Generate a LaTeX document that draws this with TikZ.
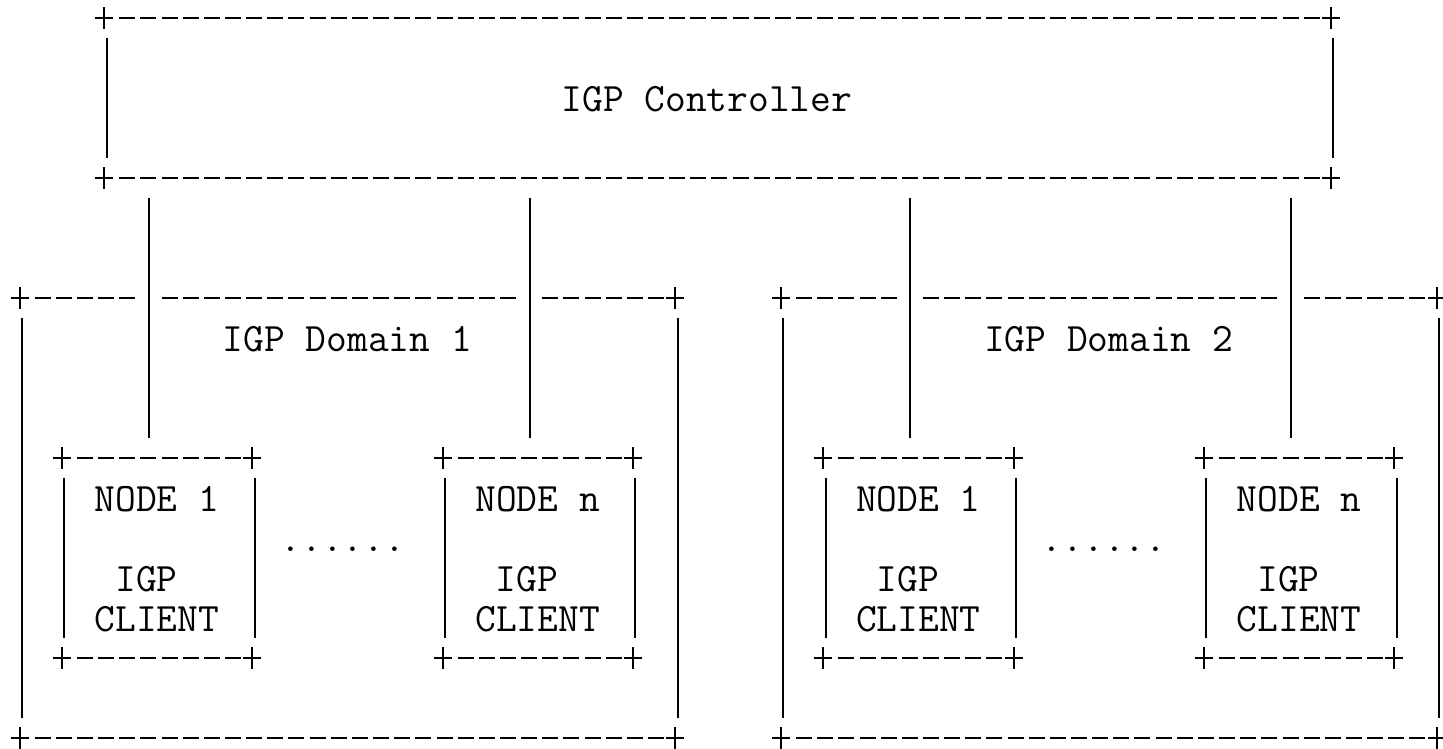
\documentclass[tikz,border=0pt]{standalone}
\usetikzlibrary{fit,calc}
\newcommand\asciibox[5]{%
  \pgfmathsetmacro\bxA{19.5+21.15*#2}%
  \pgfmathsetmacro\bxB{19.5+21.15*#4}%
  \pgfmathsetmacro\byA{18.3+40*#3}%
  \pgfmathsetmacro\byB{18.3+40*#5}%
  \coordinate (#1-nw) at (\bxA,\byA);%
  \coordinate (#1-se) at (\bxB,\byB);%
  \node[boxarea, fit=(#1-nw)(#1-se)] (#1) {};%
  \draw[hdash] (\bxA+15.15,\byA) -- (\bxB-11.15,\byA);%
  \draw[hdash] (\bxA+15.15,\byB) -- (\bxB-11.15,\byB);%
  \draw[vbar] (\bxA+2.5,\byA+20) -- (\bxA+2.5,\byB-20);%
  \draw[vbar] (\bxB+2.5,\byA+20) -- (\bxB+2.5,\byB-20);%
  \foreach \px/\py in {\bxA/\byA,\bxB/\byA,\bxA/\byB,\bxB/\byB}{%
    \draw[plusmark] (\px-9,\py) -- (\px+9,\py) (\px,\py-11) -- (\px,\py+11);}%
}
\begin{document}
\begin{tikzpicture}[x=1pt,y=-1pt,
  hdash/.style={line width=2pt, dash pattern=on 16pt off 5.15pt},
  vbar/.style={line width=2pt},
  plusmark/.style={line width=2pt},
  boxarea/.style={inner sep=0pt, outer sep=0pt, draw=none},
  txt/.style={font=\fontsize{40.3pt}{40pt}\selectfont\ttfamily, inner sep=0pt, anchor=base},
]
\useasboundingbox[fill=white] (0,0) rectangle (1443,749);

% boxes
\asciibox{d1}{0}{7}{31}{18}
\asciibox{d2}{36}{7}{67}{18}
\asciibox{n11}{2}{11}{11}{16}
\asciibox{n1n}{20}{11}{29}{16}
\asciibox{n21}{38}{11}{47}{16}
\asciibox{n2n}{56}{11}{65}{16}
\asciibox{ctrl}{4}{0}{62}{4}

% labels
\node[txt] (tctrl) at (706.9,111.3) {IGP Controller};
\node[txt] (td1) at (347.3,351.3) {IGP Domain 1};
\node[txt] (td2) at (1108.7,351.3) {IGP Domain 2};

\foreach \n/\t in {n11/1,n1n/n,n21/1,n2n/n}{
  \node[txt] (\n-a) at ($(\n.north)+(0,53)$) {NODE \t};
  \node[txt] (\n-b) at ($(\n.north)+(-10.575,133)$) {IGP};
  \node[txt] (\n-c) at ($(\n.north)+(0,173)$) {CLIENT};
}

\node[txt] (dots1) at (342.8,551.3) {......};
\node[txt] (dots2) at (1104.2,551.3) {......};

% connectors
\foreach \n/\d in {n11/d1,n1n/d1,n21/d2,n2n/d2}{
  \fill[white] ($(\n.north west |- \d.north)+(76.6,-3)$) rectangle ++(19,6);
  \draw[vbar] ($(\n.north west |- ctrl.south)+(87.1,20)$) -- ($(\n.north west)+(87.1,-20)$);
}
\end{tikzpicture}
\end{document}
